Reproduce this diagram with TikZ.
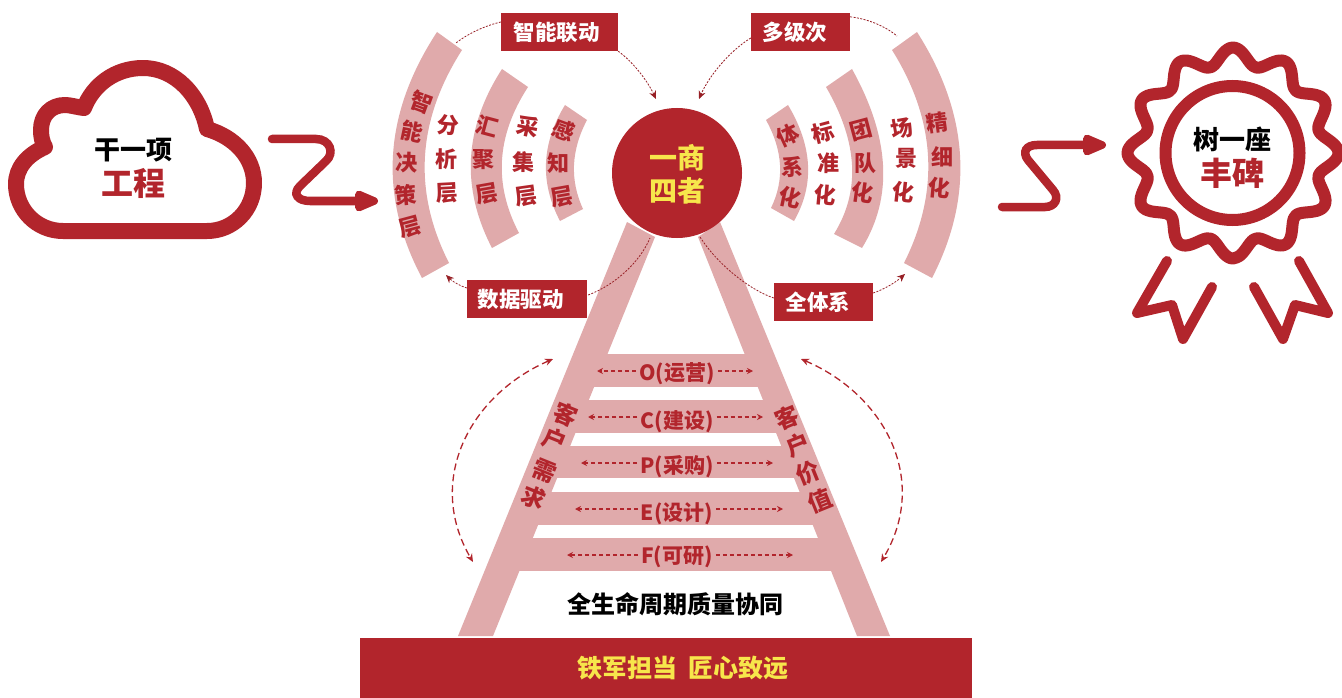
\documentclass[tikz,border=0pt]{standalone}
\usepackage{fontspec}
\setmainfont{Noto Sans CJK SC}[BoldFont={Noto Sans CJK SC Black}]
\usetikzlibrary{arrows.meta,calc}
\definecolor{dred}{HTML}{B2252C}
\definecolor{pinkb}{HTML}{E0AAAB}
\definecolor{yell}{HTML}{F7E64B}
\tikzset{
  pic px/.style={x=1pt,y=-1pt},
  bandfill/.style={fill=pinkb,draw=none},
  ch/.style={text=dred,font=\fontsize{22}{22}\selectfont\bfseries,inner sep=0pt},
  ladderch/.style={text=dred,font=\fontsize{23.5}{24}\selectfont\bfseries,inner sep=0pt},
  labelbox/.style={fill=dred,text=white,font=\fontsize{21.5}{22}\selectfont\bfseries,inner sep=0pt,anchor=center},
  runglabel/.style={text=dred,font=\fontsize{21}{21}\selectfont\bfseries,inner sep=3pt},
  thindash/.style={draw=dred!85!black,line width=0.8pt,dash pattern=on 2pt off 1.4pt},
  thintip/.style={thindash,-{Stealth[length=8pt,width=7pt]}},
  sidedash/.style={draw=dred,line width=1.3pt,dash pattern=on 7pt off 4pt,{Stealth[length=8pt,width=7pt]}-{Stealth[length=8pt,width=7pt]}},
  rungdash/.style={draw=dred,line width=1.3pt,dash pattern=on 4pt off 3pt,-{Stealth[length=6pt,width=6pt]}},
  bigarrow/.style={draw=dred,line width=8.5pt,line cap=round,-{Triangle[length=30pt,width=22pt,round=false]}},
  iconline/.style={draw=dred,line join=round,line cap=round},
}
% band through three outer points and three inner points (parabolic approximation of arcs)
\newcommand{\bandshape}[6]{%
  \fill[bandfill] #1 .. controls ($1.3333*#2-0.3333*#3$) and ($1.3333*#2-0.3333*#1$) .. #3
   -- #6 .. controls ($1.3333*#5-0.3333*#4$) and ($1.3333*#5-0.3333*#6$) .. #4 -- cycle;}
% box text, moved left by half of #1 and down by 2pt
\newcommand{\boxtext}[2]{\hspace*{-#1}\raisebox{-2pt}{#2}}
\begin{document}
\begin{tikzpicture}[pic px]
\useasboundingbox (0,0) rectangle (1342,698);
\fill[white] (0,0) rectangle (1342,698);
% left bands
\bandshape{(437,32)}{(393,155)}{(422,278)}{(462,50)}{(425,156)}{(449,263)}
\bandshape{(502,69)}{(471,158)}{(492,248)}{(528,87)}{(502,160)}{(519,233)}
\bandshape{(565,105)}{(546,163)}{(560,221)}{(587,120)}{(574,165)}{(583,209)}
% right bands
\bandshape{(917,32)}{(960,155)}{(932,278)}{(892,50)}{(928,156)}{(904,263)}
\bandshape{(852,69)}{(883,165)}{(862,248)}{(826,87)}{(852,165)}{(834,234)}
\bandshape{(788,105)}{(808,165)}{(794,221)}{(766,120)}{(780,165)}{(771,208)}
% ladder
\fill[pinkb] (627,222) -- (655,237) -- (493,636) -- (458,636) -- cycle;
\fill[pinkb] (720,222) -- (698,237) -- (857,636) -- (890,636) -- cycle;
\fill[pinkb] (594,354) rectangle (758,387);
\fill[pinkb] (575,400) rectangle (777,433);
\fill[pinkb] (557,446) rectangle (795,478);
\fill[pinkb] (538,492) rectangle (814,525);
\fill[pinkb] (519,538) rectangle (832,571);
% bar
\node[fill=dred,minimum width=612pt,minimum height=60pt,inner sep=0pt,text=yell,font=\fontsize{25}{25}\selectfont\bfseries] (bar) at (666,668) {\hspace{34pt}铁军担当\hspace{12pt}匠心致远};
% hub
\node[circle,fill=dred,minimum size=130pt,inner sep=0pt] (hub) at (677,173) {};
\node[text=yell,font=\fontsize{28}{28}\selectfont\bfseries,inner sep=0pt] (hubA) at (677,158) {一商};
\node[text=yell,font=\fontsize{28}{28}\selectfont\bfseries,inner sep=0pt] (hubB) at (677,191) {四者};
% label boxes
\node[labelbox,minimum width=117pt,minimum height=38pt] (lzn) at (559.5,32) {\boxtext{6pt}{智能联动}};
\node[labelbox,minimum width=99pt,minimum height=38pt] (ldj) at (800.5,32) {\boxtext{11pt}{多级次}};
\node[labelbox,minimum width=120pt,minimum height=38pt] (lsj) at (527,299) {\boxtext{13pt}{数据驱动}};
\node[labelbox,minimum width=99pt,minimum height=38pt] (lqt) at (823.5,302) {\boxtext{11pt}{全体系}};
% free ends
\coordinate (c1) at (456,43);
\coordinate (c2) at (656,99);
\coordinate (c3) at (699,99);
\coordinate (c4) at (897,36);
\coordinate (c5) at (446,275);
\coordinate (c6) at (650,238);
\coordinate (c7) at (700,237);
\coordinate (c8) at (905,274);
\draw[thindash] (lzn.west) ++(0,-10) .. controls (488,25) and (470,32) .. (c1);
\draw[thintip] (lzn.south east) .. controls (633,62) and (647,80) .. (c2);
\draw[thintip] (ldj.west) ++(0,6) .. controls (728,52) and (708,78) .. (c3);
\draw[thindash] (ldj.north east) ++(0,4) .. controls (868,19) and (885,26) .. (c4);
\draw[thintip] (lsj.west) ++(0,-11) .. controls (460,286) and (452,281) .. (c5);
\draw[thindash] (lsj.east) ++(1,-4) .. controls (615,285) and (640,262) .. (c6);
\draw[thindash] (lqt.west) ++(0,-4) .. controls (750,290) and (718,265) .. (c7);
\draw[thintip] (lqt.east) ++(0,-9) .. controls (885,289) and (896,282) .. (c8);
% band text
\foreach \t/\x/\y/\r/\n in {
 智/422/102/-20/a1,能/412/132/-12/a2,决/407/163/-2/a3,策/406/195/5/a4,层/410/227/15/a5,
 分/448/125/-5/b1,析/446/159/0/b2,层/447/193/3/b3,
 汇/487/126/-15/c1x,聚/483/160/0/c2x,层/487/194/10/c3x,
 采/528/127/-12/d1,集/523/162/0/d2,层/526/196/8/d3,
 感/564/130/-20/e1,知/558/163/0/e2,层/562/197/10/e3,
 体/788/135/25/f1,系/792/167/0/f2,化/790/198/-12/f3,
 标/823/133/15/g1,准/828/163/0/g2,化/825/195/-5/g3,
 团/861/130/15/h1,队/865/163/0/h2,化/863/193/-8/h3,
 场/902/128/10/i1,景/906/158/0/i2,化/903/192/-6/i3,
 精/937/123/8/j1,细/942/157/0/j2,化/939/188/-5/j3}
 {\node[ch,rotate=\r] (\n) at (\x,\y) {\t};}
% ladder text
\foreach \t/\x/\y/\r/\n in {
 客/566/414/-22/k1,户/555/440/-22/k2,需/545/471/-22/k3,求/534/498/-22/k4,
 客/787/418/22/m1,户/798/445/22/m2,价/808/473/22/m3,值/820/501/22/m4}
 {\node[ladderch,rotate=\r] (\n) at (\x,\y) {\t};}
% rungs
\node[runglabel] (ro) at (677,374) {O(运营)};
\node[runglabel] (rc) at (677,422) {C(建设)};
\node[runglabel] (rp) at (677,467) {P(采购)};
\node[runglabel] (re) at (677,514) {E(设计)};
\node[runglabel] (rf) at (677,557) {F(可研)};
\coordinate (ol) at (597,371); \coordinate (or) at (753,371);
\coordinate (cl) at (588,417); \coordinate (cr) at (763,417);
\coordinate (pl) at (581,463); \coordinate (pr) at (773,463);
\coordinate (el) at (575,509); \coordinate (er) at (783,509);
\coordinate (fl) at (567,555); \coordinate (fr) at (793,555);
\draw[rungdash] (ro.west |- ol) -- (ol);
\draw[rungdash] (ro.east |- or) -- (or);
\draw[rungdash] (rc.west |- cl) -- (cl);
\draw[rungdash] (rc.east |- cr) -- (cr);
\draw[rungdash] (rp.west |- pl) -- (pl);
\draw[rungdash] (rp.east |- pr) -- (pr);
\draw[rungdash] (re.west |- el) -- (el);
\draw[rungdash] (re.east |- er) -- (er);
\draw[rungdash] (rf.west |- fl) -- (fl);
\draw[rungdash] (rf.east |- fr) -- (fr);
% side arcs
\coordinate (sl1) at (553,359); \coordinate (sl2) at (473,562);
\coordinate (sr1) at (801,359); \coordinate (sr2) at (881,562);
\draw[sidedash] (sl1) .. controls (470,395) and (425,480) .. (sl2);
\draw[sidedash] (sr1) .. controls (885,395) and (930,480) .. (sr2);
% caption
\node[inner sep=0pt,text=black,font=\fontsize{24}{24}\selectfont\bfseries] (cap) at (675,604) {全生命周期质量协同};
% cloud
\draw[iconline,line width=16pt] (63,231) -- (207,231) .. controls (233,231) and (254,210) .. (254,183) .. controls (254,158) and (235,137) .. (207,129) .. controls (200,95) and (175,68) .. (143,68) .. controls (115,68) and (93,85) .. (84,108) .. controls (76,107) and (70,105) .. (65,105) .. controls (51,105) and (41,115) .. (41,130) .. controls (41,136) and (42,142) .. (45,147) .. controls (27,155) and (16,168) .. (16,184) .. controls (16,210) and (37,231) .. (63,231) -- cycle;
\node[inner sep=0pt,text=black,font=\fontsize{26}{26}\selectfont\bfseries] (ctA) at (133,150) {干一项};
\node[inner sep=0pt,text=dred,font=\fontsize{32}{32}\selectfont\bfseries] (ctB) at (133,183) {工程};
% arrows
\coordinate (a1s) at (272,139); \coordinate (a1e) at (378,201);
\draw[bigarrow] (a1s) -- (316,139) .. controls (330,139) and (335,153) .. (326,161) -- (300,186) .. controls (292,194) and (298,201) .. (310,201) -- (a1e);
\coordinate (a2s) at (1002,207); \coordinate (a2e) at (1106,145);
\draw[bigarrow] (a2s) -- (1045,207) .. controls (1055,207) and (1060,198) .. (1053,190) -- (1028,160) .. controls (1022,152) and (1026,145) .. (1037,145) -- (a2e);
% badge
\draw[iconline,line width=12pt] plot[smooth cycle,samples=145,domain=0:356.5,variable=\t] ({1233+(97+8.5*cos(12*\t))*cos(\t+90)},{153+(97+8.5*cos(12*\t))*sin(\t+90)});
\node[circle,draw=dred,line width=12pt,minimum size=134pt,inner sep=0pt] (seal) at (1232.5,153) {};
\node[inner sep=0pt,text=black,font=\fontsize{26}{26}\selectfont\bfseries] (stA) at (1232,139) {树一座};
\node[inner sep=0pt,text=dred,font=\fontsize{32}{32}\selectfont\bfseries] (stB) at (1232,173) {丰碑};
\draw[iconline,line width=10pt] (1167,261) -- (1137,313) -- (1172,305) -- (1183,339) -- (1212,287);
\draw[iconline,line width=10pt] (1299,261) -- (1328,313) -- (1295,305) -- (1283,339) -- (1254,287);
\end{tikzpicture}
\end{document}
